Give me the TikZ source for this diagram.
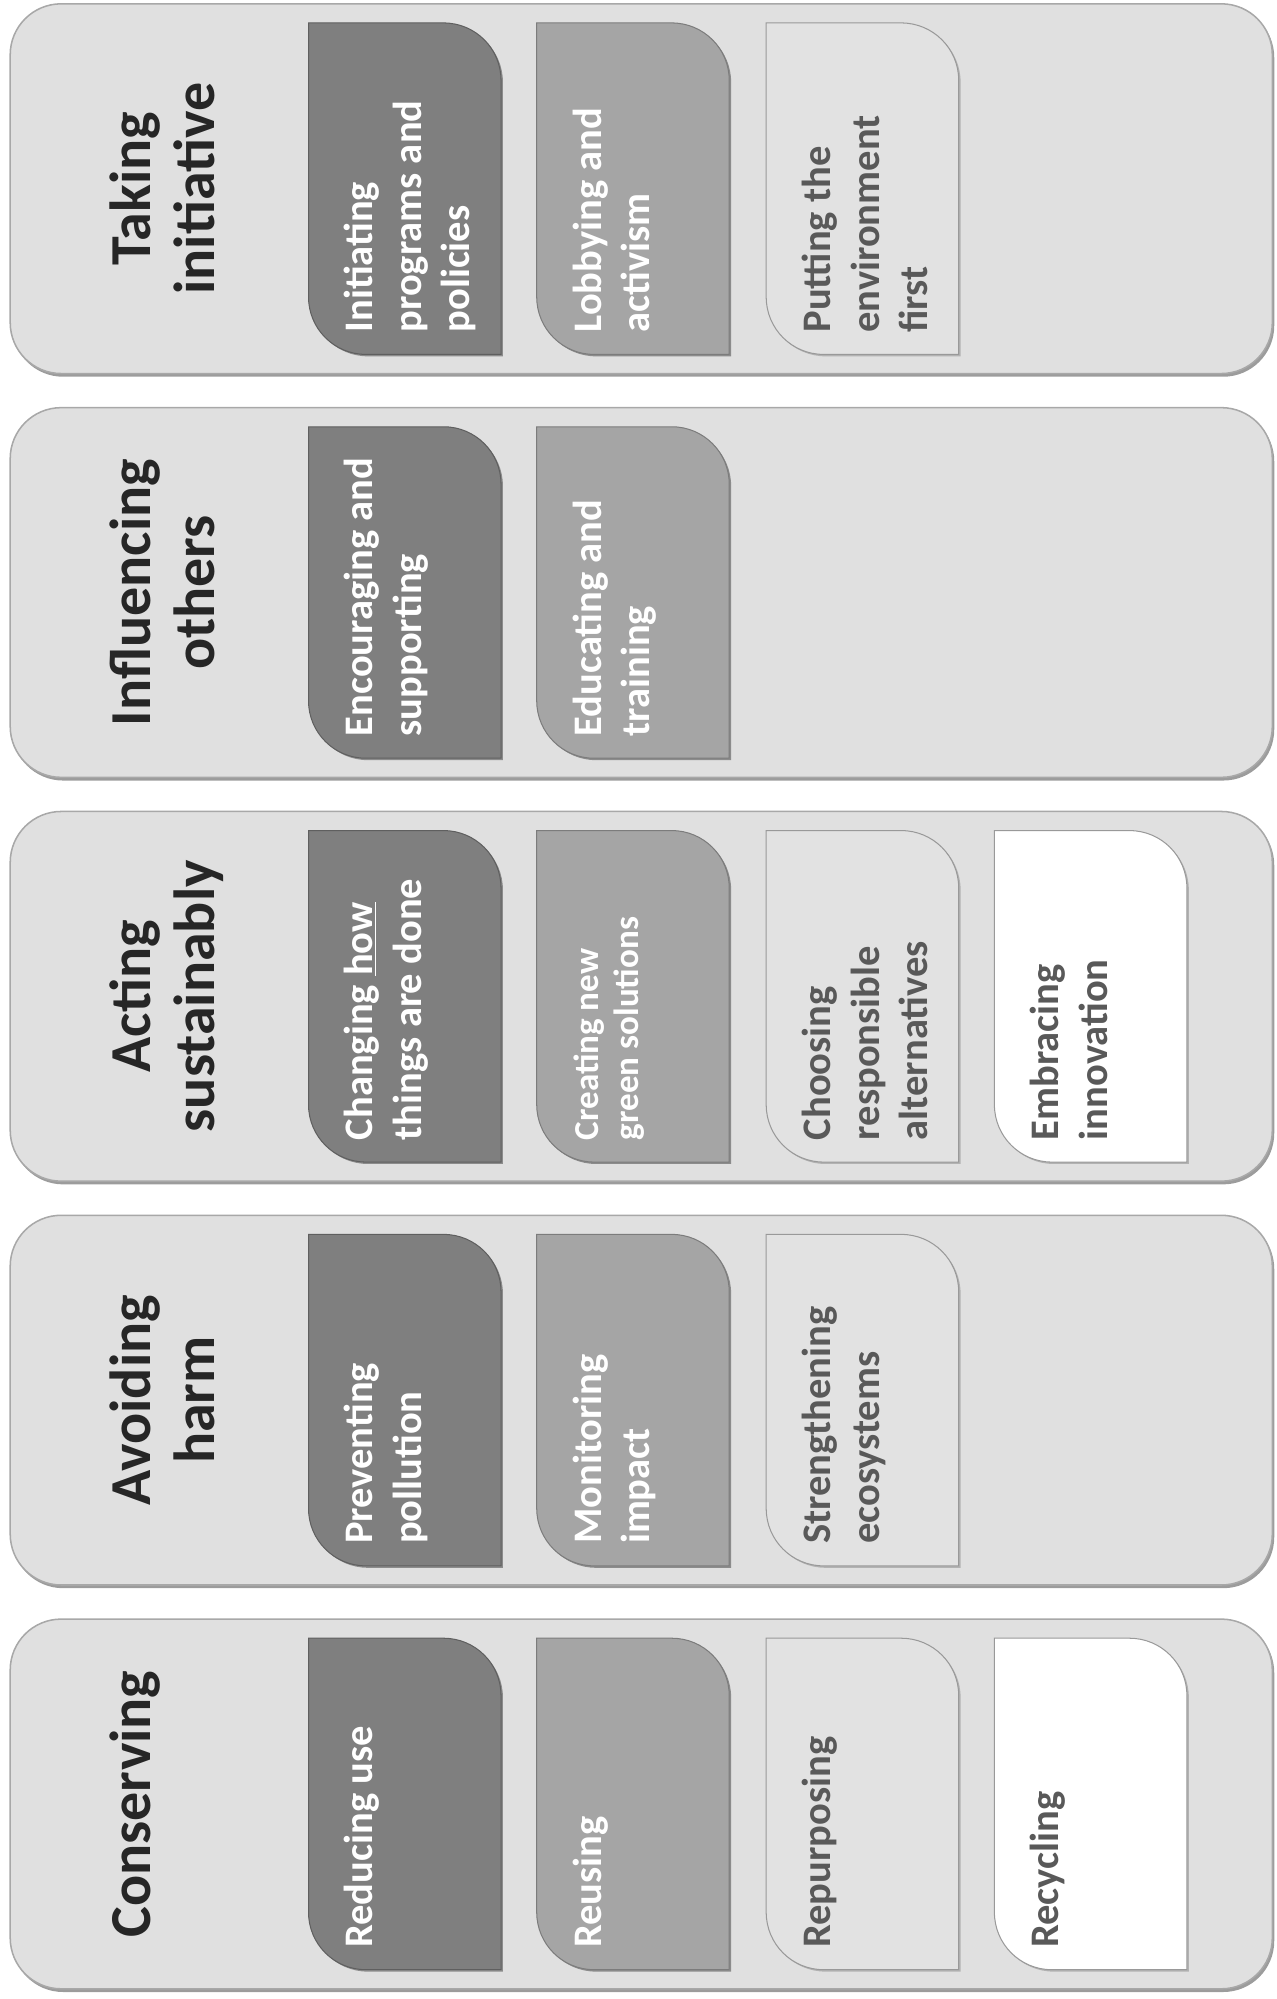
\documentclass[tikz,border=0pt]{standalone}
\usepackage{fontspec}
\setmainfont{Carlito}
\definecolor{bandfill}{HTML}{E0E0E0}
\definecolor{bandline}{HTML}{A8A8A8}
\definecolor{bandshadow}{HTML}{9C9C9C}
\definecolor{cdark}{HTML}{7F7F7F}
\definecolor{cmid}{HTML}{A5A5A5}
\definecolor{clight}{HTML}{E2E2E2}
\definecolor{titlecol}{HTML}{262626}
\definecolor{darktext}{HTML}{595959}
\newcommand\cardpath[2]{(#1,#2) -- ++(106,0) .. controls +(24.85,0) and +(0,-24.85) .. ++(45,45) -- ++(0,215) -- ++(-106,0) .. controls +(-24.85,0) and +(0,24.85) .. ++(-45,-45) -- cycle}
\tikzset{
  bandbox/.style={fill=bandfill, draw=bandline, line width=1.2pt, rounded corners=40pt},
  bandshade/.style={fill=bandshadow, rounded corners=40pt},
  cardshade/.style={fill=black!45},
  card1/.style={fill=cdark, draw=cdark!75!black, line width=0.8pt},
  card2/.style={fill=cmid, draw=cmid!75!black, line width=0.8pt},
  card3/.style={fill=clight, draw=black!40, line width=0.8pt},
  card4/.style={fill=white, draw=black!40, line width=0.8pt},
  ttl/.style={rotate=90, anchor=north, align=center, inner sep=0pt, text=titlecol,
    font=\fontsize{45.5}{50}\selectfont\bfseries},
  ctxt/.style={rotate=90, anchor=north west, align=left, inner sep=0pt,
    font=\fontsize{31.8}{38}\selectfont\bfseries},
  lighttxt/.style={ctxt, text=white},
  darktxt/.style={ctxt, text=darktext}
}
\begin{document}
\begin{tikzpicture}[x=1pt,y=-1pt]
\useasboundingbox (0,0) rectangle (1001,1568);
% bands
\foreach \t in {3,319.75,636.5,953.25,1270}{
  \fill[bandshade] (9.5,\t+2) rectangle (999.5,\t+292.5);
  \draw[bandbox] (8,\t) rectangle (998,\t+290);
}
% Band 1: Taking initiative
\fill[cardshade] [shift={(1.5,1.5)}] \cardpath{242}{18};
\draw[card1] \cardpath{242}{18};
\fill[cardshade] [shift={(1.5,1.5)}] \cardpath{421}{18};
\draw[card2] \cardpath{421}{18};
\fill[black!30] [shift={(1.5,1.5)}] \cardpath{601}{18};
\draw[card3] \cardpath{601}{18};
% Band 2: Influencing others
\fill[cardshade] [shift={(1.5,1.5)}] \cardpath{242}{334.75};
\draw[card1] \cardpath{242}{334.75};
\fill[cardshade] [shift={(1.5,1.5)}] \cardpath{421}{334.75};
\draw[card2] \cardpath{421}{334.75};
% Band 3: Acting sustainably
\fill[cardshade] [shift={(1.5,1.5)}] \cardpath{242}{651.5};
\draw[card1] \cardpath{242}{651.5};
\fill[cardshade] [shift={(1.5,1.5)}] \cardpath{421}{651.5};
\draw[card2] \cardpath{421}{651.5};
\fill[black!30] [shift={(1.5,1.5)}] \cardpath{601}{651.5};
\draw[card3] \cardpath{601}{651.5};
\fill[black!30] [shift={(1.5,1.5)}] \cardpath{780}{651.5};
\draw[card4] \cardpath{780}{651.5};
% Band 4: Avoiding harm
\fill[cardshade] [shift={(1.5,1.5)}] \cardpath{242}{968.25};
\draw[card1] \cardpath{242}{968.25};
\fill[cardshade] [shift={(1.5,1.5)}] \cardpath{421}{968.25};
\draw[card2] \cardpath{421}{968.25};
\fill[black!30] [shift={(1.5,1.5)}] \cardpath{601}{968.25};
\draw[card3] \cardpath{601}{968.25};
% Band 5: Conserving
\fill[cardshade] [shift={(1.5,1.5)}] \cardpath{242}{1285};
\draw[card1] \cardpath{242}{1285};
\fill[cardshade] [shift={(1.5,1.5)}] \cardpath{421}{1285};
\draw[card2] \cardpath{421}{1285};
\fill[black!30] [shift={(1.5,1.5)}] \cardpath{601}{1285};
\draw[card3] \cardpath{601}{1285};
\fill[black!30] [shift={(1.5,1.5)}] \cardpath{780}{1285};
\draw[card4] \cardpath{780}{1285};

% titles
\node[ttl] (t1) at (86,148) {Taking\\initiative};
\node[ttl] (t2) at (86,464.75) {Influencing\\others};
\node[ttl] (t3) at (86,781.5) {Acting\\sustainably};
\node[ttl] (t4) at (86,1098.25) {Avoiding\\harm};
\node[ttl] (t5) at (86,1415) {Conserving};

% card texts
\node[lighttxt] (a1) at (270,261) {Initiating\\programs and\\policies};
\node[lighttxt] (a2) at (449,261) {Lobbying and\\activism};
\node[darktxt]  (a3) at (629,261) {Putting the\\environment\\first};

\node[lighttxt] (b1) at (270,577.75) {Encouraging and\\supporting};
\node[lighttxt] (b2) at (449,577.75) {Educating and\\training};

\node[lighttxt] (c1) at (270,894.5) {Changing \underline{how}\\things are done};
\node[lighttxt, font=\fontsize{27.5}{31}\selectfont\bfseries] (c2) at (450,894.5) {Creating new\\green solutions};
\node[darktxt]  (c3) at (629,894.5) {Choosing\\responsible\\alternatives};
\node[darktxt]  (c4) at (808,894.5) {Embracing\\innovation};

\node[lighttxt] (d1) at (270,1211.25) {Preventing\\pollution};
\node[lighttxt] (d2) at (449,1211.25) {Monitoring\\impact};
\node[darktxt]  (d3) at (629,1211.25) {Strengthening\\ecosystems};

\node[lighttxt] (e1) at (270,1528) {Reducing use};
\node[lighttxt] (e2) at (449,1528) {Reusing};
\node[darktxt]  (e3) at (629,1528) {Repurposing};
\node[darktxt]  (e4) at (808,1528) {Recycling};
\end{tikzpicture}
\end{document}
